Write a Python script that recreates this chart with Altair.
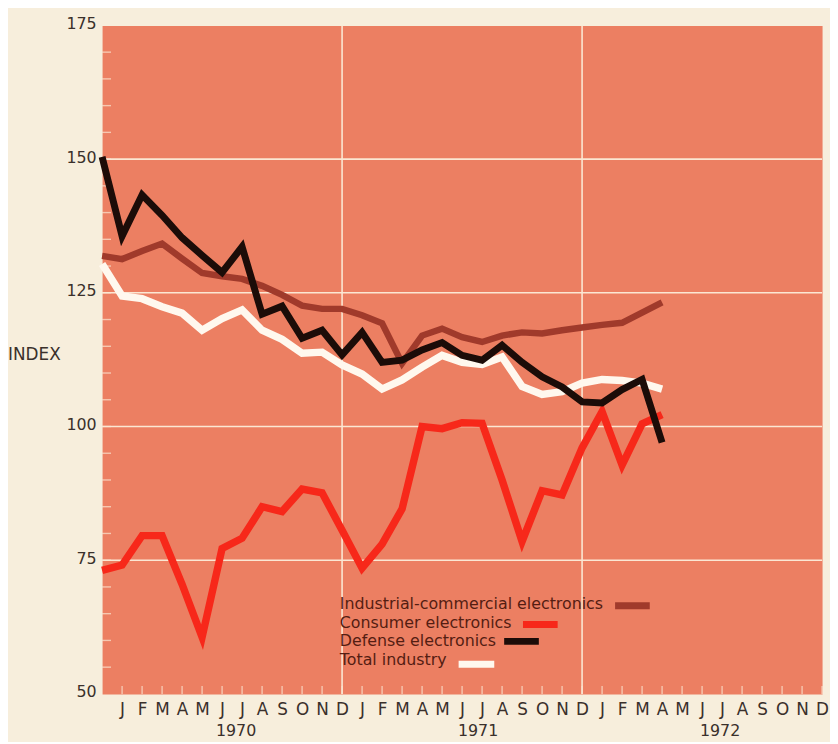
import altair as alt
import pandas as pd

# ---- data (month index 0 = Dec 1969, 1 = Jan 1970, ... 28 = Apr 1972) ----
months_index = list(range(0, 29))
industrial = [131.9, 131.3, 132.8, 134.2, 131.4, 128.7, 128.1, 127.6, 126.3, 124.6,
              122.6, 122.0, 122.0, 120.8, 119.3, 111.8, 117.0, 118.3, 116.7, 115.8,
              117.0, 117.6, 117.4, 118.0, 118.5, 119.0, 119.4, 121.3, 123.2]
consumer = [73.1, 74.1, 79.6, 79.6, 70.5, 60.6, 77.2, 79.1, 85.0, 84.1,
            88.3, 87.6, 80.6, 73.5, 78.0, 84.6, 100.0, 99.6, 100.7, 100.6,
            90.0, 78.5, 88.0, 87.2, 96.0, 102.8, 92.8, 100.5, 102.2]
defense = [150.4, 135.6, 143.3, 139.5, 135.3, 132.0, 128.8, 133.6, 121.0, 122.5,
           116.5, 118.0, 113.4, 117.6, 112.0, 112.4, 114.3, 115.7, 113.3, 112.4,
           115.2, 112.0, 109.3, 107.4, 104.6, 104.4, 106.9, 108.8, 97.0]
total = [130.4, 124.4, 123.9, 122.4, 121.2, 118.0, 120.2, 121.8, 118.0, 116.3,
         113.7, 113.9, 111.5, 109.8, 107.0, 108.7, 111.1, 113.3, 112.0, 111.6,
         113.0, 107.5, 106.0, 106.5, 108.1, 108.8, 108.6, 108.1, 107.0]

month_letters = ["J", "F", "M", "A", "M", "J", "J", "A", "S", "O", "N", "D"]
tick_months = list(range(1, 37))
y_minor_ticks = list(range(55, 175, 5))
y_labels = [50, 75, 100, 125, 150, 175]
y_grid = [75, 100, 125, 150]
x_grid = [12, 24]
years = ["1970", "1971", "1972"]
year_pos = [6.7, 18.8, 30.9]
legend_labels = ["Industrial-commercial electronics", "Consumer electronics",
                 "Defense electronics", "Total industry"]

# ---- style ----
W, H = 727, 675
FONT = "DejaVu Sans"
CREAM = "#f7eedc"
SALMON = "#ec7f62"
GRID = "#fbe7d3"
AXIS_TXT = "#3a302b"
LEG_TXT = "#541d12"
C_IND = "#a03a2b"
C_CON = "#f7281a"
C_DEF = "#1c0c08"
C_TOT = "#fff8ee"

xs = alt.Scale(domain=[0, 36], nice=False, zero=False)
ys = alt.Scale(domain=[50, 175], nice=False, zero=False)

letters_js = "[" + ",".join("'%s'" % m for m in month_letters) + "]"
x_axis = alt.Axis(values=tick_months,
                  labelExpr=letters_js + "[(datum.value - 1) % 12]",
                  ticks=False, domain=False, grid=False, labelFlush=False,
                  labelPadding=8, labelFontSize=17, labelFont=FONT,
                  labelColor=AXIS_TXT, labelAngle=0, title=None)
y_axis = alt.Axis(values=y_labels, ticks=False, domain=False, grid=False,
                  labelPadding=6, labelFontSize=16, labelFont=FONT,
                  labelColor=AXIS_TXT, labelOffset=-2, title=None)


def X(field):
    return alt.X(field, scale=xs, axis=x_axis)


def Y(field):
    return alt.Y(field, scale=ys, axis=y_axis)


layers = []

# grid lines
layers.append(alt.Chart(pd.DataFrame({"g": y_grid})).mark_rule(color=GRID, strokeWidth=1.6)
              .encode(y=Y("g:Q")))
layers.append(alt.Chart(pd.DataFrame({"gx": x_grid})).mark_rule(color=GRID, strokeWidth=1.6)
              .encode(x=X("gx:Q")))

# small ticks inside plot
layers.append(alt.Chart(pd.DataFrame({"yt": y_minor_ticks}))
              .mark_tick(orient="horizontal", size=9, thickness=1.4, color=GRID)
              .encode(y=Y("yt:Q"), x=alt.value(4.5)))
layers.append(alt.Chart(pd.DataFrame({"xt": tick_months}))
              .mark_tick(orient="vertical", size=8, thickness=1.4, color=GRID)
              .encode(x=X("xt:Q"), y=alt.value(H - 4)))

# data lines
series = [(industrial, C_IND, 6.5), (consumer, C_CON, 7.5),
          (total, C_TOT, 7.5), (defense, C_DEF, 7.0)]
for vals, col, sw in series:
    df = pd.DataFrame({"t": months_index, "v": vals})
    layers.append(alt.Chart(df).mark_line(color=col, strokeWidth=sw, strokeJoin="miter")
                  .encode(x=X("t:Q"), y=Y("v:Q")))

# year labels
layers.append(alt.Chart(pd.DataFrame({"yr": years, "p": year_pos}))
              .mark_text(font=FONT, fontSize=16, color=AXIS_TXT, align="center", baseline="middle")
              .encode(x=X("p:Q"), y=alt.value(H + 38), text="yr:N"))

# INDEX label
layers.append(alt.Chart(pd.DataFrame({"lab": ["INDEX"]}))
              .mark_text(font=FONT, fontSize=17, color=AXIS_TXT, align="left", baseline="middle")
              .encode(x=alt.value(-95), y=alt.value(333), text="lab:N"))

# legend (text + swatch after it)
leg_rows = [(584, 518, 553, 586, C_IND), (603, 425, 460, 605, C_CON),
            (622, 406, 441, 622, C_DEF), (641, 360, 396, 645, C_TOT)]
for lab, (ty, sx1, sx2, sy, col) in zip(legend_labels, leg_rows):
    layers.append(alt.Chart(pd.DataFrame({"lab": [lab]}))
                  .mark_text(font=FONT, fontSize=16, color=LEG_TXT, align="left", baseline="middle")
                  .encode(x=alt.value(240), y=alt.value(ty), text="lab:N"))
    layers.append(alt.Chart(pd.DataFrame({"lab": [lab]}))
                  .mark_rule(color=col, strokeWidth=7)
                  .encode(x=alt.value(sx1), x2=alt.value(sx2), y=alt.value(sy)))

chart = (alt.layer(*layers)
         .properties(width=W, height=H,
                     autosize=alt.AutoSizeParams(type="none"),
                     padding={"left": 95, "top": 14, "right": 8, "bottom": 45},
                     background=CREAM)
         .configure_view(fill=SALMON, stroke="transparent"))

chart.save("out.html", embed_options={"renderer": "svg", "actions": False})
